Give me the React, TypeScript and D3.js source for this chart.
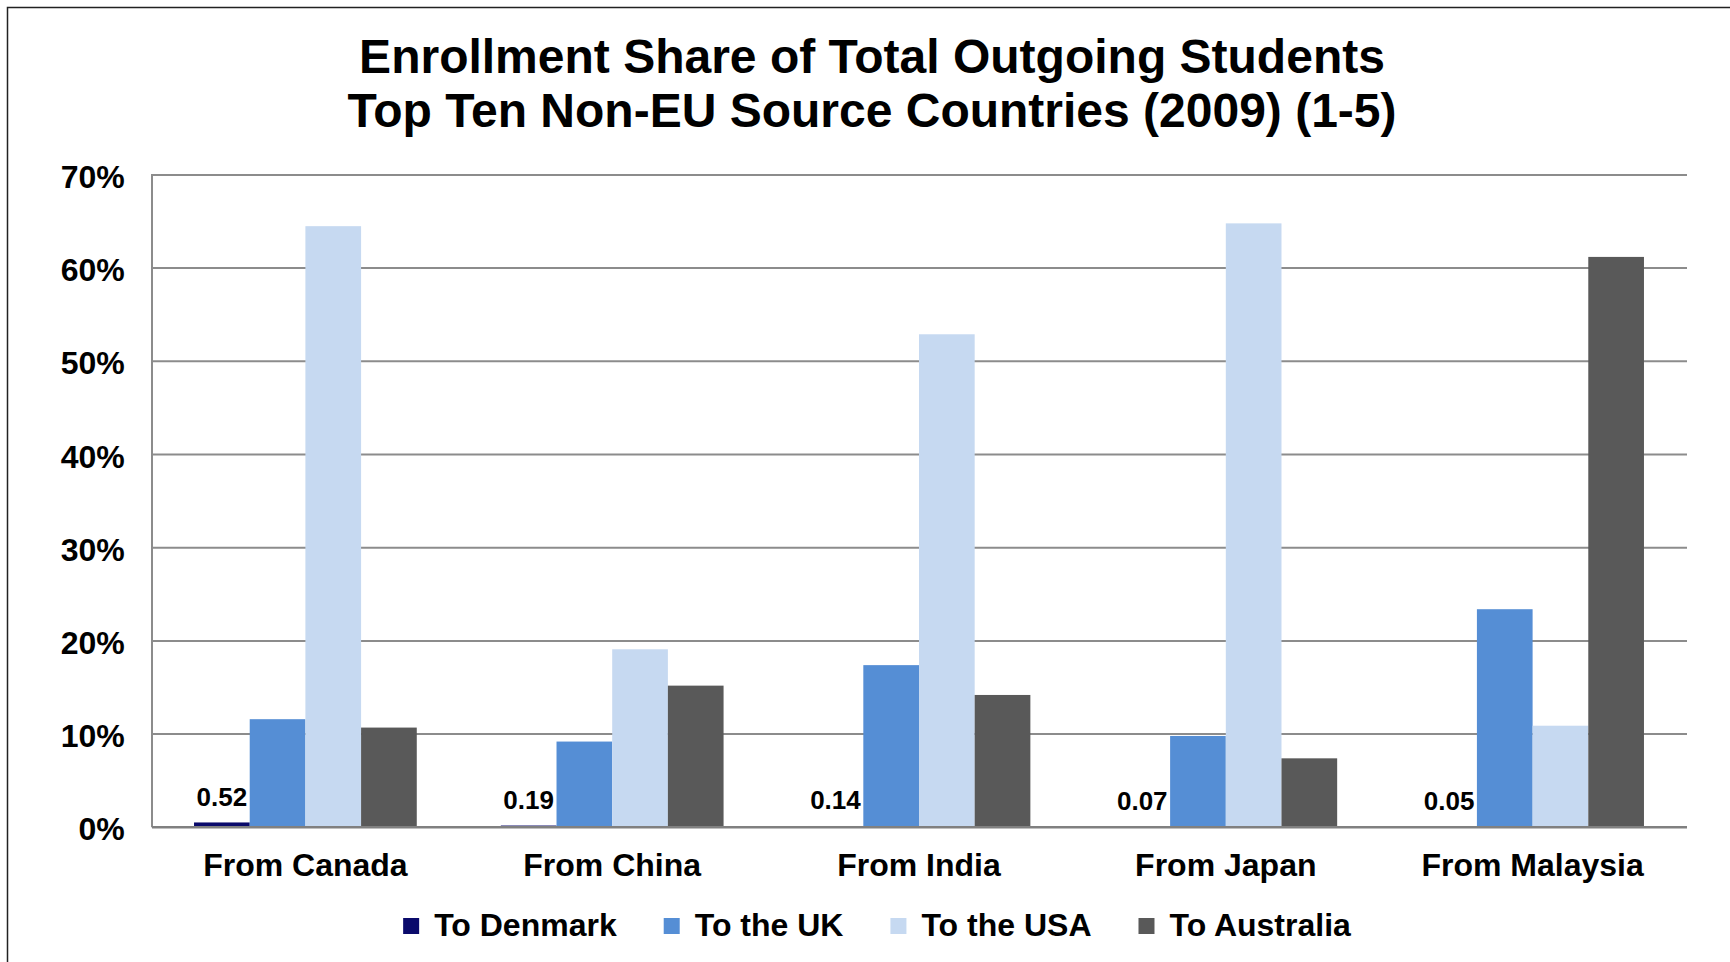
import React, { useEffect, useRef } from "react";
import * as d3 from "d3";

const categories = ["From Canada", "From China", "From India", "From Japan", "From Malaysia"];
const seriesNames = ["To Denmark", "To the UK", "To the USA", "To Australia"];
const toDenmark = [0.52, 0.19, 0.14, 0.07, 0.05];
const toUK = [11.6, 9.2, 17.4, 9.8, 23.4];
const toUSA = [64.5, 19.1, 52.9, 64.8, 10.9];
const toAustralia = [10.7, 15.2, 14.2, 7.4, 61.2];
const yTicks = [0, 10, 20, 30, 40, 50, 60, 70];
const titleLines = ["Enrollment Share of Total Outgoing Students", "Top Ten Non-EU Source Countries (2009) (1-5)"];
const colors = ["#0a0a6b", "#558ed5", "#c6d9f1", "#595959"];

const W = 1730;
const H = 962;
const FONT = "'Liberation Sans', Arial, sans-serif";

export default function App() {
  const ref = useRef<SVGSVGElement | null>(null);

  useEffect(() => {
    const svg = d3.select(ref.current);
    svg.selectAll("*").remove();

    const left = 152, right = 1686, top = 174.9, bottom = 827.3;
    const seriesValues = [toDenmark, toUK, toUSA, toAustralia];

    const y = d3.scaleLinear().domain([0, 70]).range([bottom, top]);
    const x0 = d3.scaleBand<string>().domain(categories).range([left, right]).paddingInner(0.274).paddingOuter(0.137);
    const x1 = d3.scaleBand<string>().domain(seriesNames).range([0, x0.bandwidth()]).padding(0);
    const color = d3.scaleOrdinal<string, string>().domain(seriesNames).range(colors);

    // border
    svg.append("rect").attr("x", 7.5).attr("y", 7.5).attr("width", 1800).attr("height", 1000)
      .attr("fill", "none").attr("stroke", "#222").attr("stroke-width", 1.5);

    // title
    const title = svg.append("text").attr("text-anchor", "middle").attr("font-family", FONT)
      .attr("font-weight", "bold").attr("font-size", 48).attr("fill", "#000");
    titleLines.forEach((t, i) => {
      title.append("tspan").attr("x", 872).attr("y", i === 0 ? 73.3 : 126.7).text(t);
    });

    // gridlines
    svg.append("g").selectAll("line").data(yTicks.filter((d) => d > 0)).join("line")
      .attr("x1", left).attr("x2", right + 1).attr("y1", (d) => y(d)).attr("y2", (d) => y(d))
      .attr("stroke", "#8c8c8c").attr("stroke-width", 2);

    // y tick labels
    svg.append("g").selectAll("text").data(yTicks).join("text")
      .attr("x", 124.7).attr("y", (d) => y(d) + 2).attr("dominant-baseline", "central")
      .attr("text-anchor", "end").attr("font-family", FONT).attr("font-weight", "bold")
      .attr("font-size", 32).attr("fill", "#000").text((d) => `${d}%`);

    // bars
    const groups = svg.append("g").selectAll("g").data(categories).join("g")
      .attr("transform", (d) => `translate(${x0(d)},0)`);
    groups.selectAll("rect").data((_, i) => seriesNames.map((s, k) => ({ s, v: seriesValues[k][i] }))).join("rect")
      .attr("x", (d) => x1(d.s)!).attr("width", x1.bandwidth())
      .attr("y", (d) => y(d.v)).attr("height", (d) => bottom - y(d.v))
      .attr("fill", (d) => color(d.s));

    // data labels for Denmark
    svg.append("g").selectAll("text").data(categories).join("text")
      .attr("x", (d) => x0(d)! + x1(seriesNames[0])! + x1.bandwidth() / 2)
      .attr("y", (_, i) => y(toDenmark[i]) - 16.5)
      .attr("text-anchor", "middle").attr("font-family", FONT).attr("font-weight", "bold")
      .attr("font-size", 26).attr("fill", "#000").text((_, i) => toDenmark[i].toFixed(2));

    // axes lines
    svg.append("line").attr("x1", left).attr("x2", left).attr("y1", top - 1).attr("y2", bottom)
      .attr("stroke", "#8c8c8c").attr("stroke-width", 2);
    svg.append("line").attr("x1", left).attr("x2", right + 1).attr("y1", bottom).attr("y2", bottom)
      .attr("stroke", "#808080").attr("stroke-width", 2.5);

    // category labels
    svg.append("g").selectAll("text").data(categories).join("text")
      .attr("x", (d) => x0(d)! + x0.bandwidth() / 2).attr("y", 876)
      .attr("text-anchor", "middle").attr("font-family", FONT).attr("font-weight", "bold")
      .attr("font-size", 32).attr("fill", "#000").text((d) => d);

    // legend
    const legend = svg.append("g");
    const items = legend.selectAll("g").data(seriesNames).join("g");
    items.append("rect").attr("width", 16).attr("height", 16).attr("y", 918)
      .attr("fill", (d) => color(d));
    const texts = items.append("text").attr("x", 31).attr("y", 935.6)
      .attr("font-family", FONT).attr("font-weight", "bold").attr("font-size", 32)
      .attr("fill", "#000").text((d) => d);
    const widths: number[] = [];
    texts.each(function () { widths.push((this as SVGTextElement).getComputedTextLength()); });
    const gap = 47;
    const itemW = widths.map((w) => 31 + w);
    const total = d3.sum(itemW) + gap * (itemW.length - 1);
    let cx = 877 - total / 2;
    items.attr("transform", (_, i) => {
      const t = `translate(${cx},0)`;
      cx += itemW[i] + gap;
      return t;
    });
  }, []);

  return (
    <svg
      ref={ref}
      width={W}
      height={H}
      style={{ position: "fixed", left: 0, top: 0, background: "#fff", display: "block" }}
    />
  );
}
